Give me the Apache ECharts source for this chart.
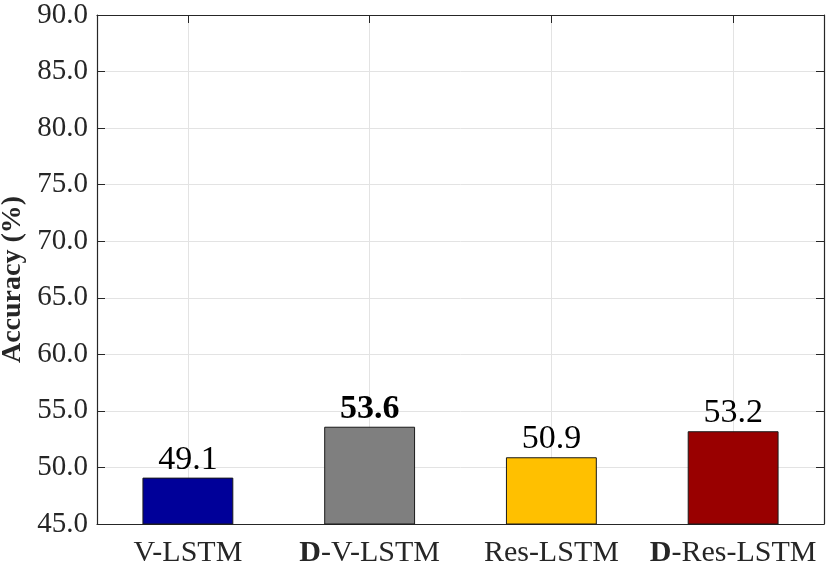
<!DOCTYPE html>
<html>
<head>
<meta charset="utf-8">
<script src="https://cdn.jsdelivr.net/npm/echarts@6/dist/echarts.min.js"></script>
<style>html,body{margin:0;padding:0;background:#fff;}#c{width:830px;height:569px;}</style>
</head>
<body>
<div id="c"></div>
<script>
const categories = ['V-LSTM', 'D-V-LSTM', 'Res-LSTM', 'D-Res-LSTM'];
const accuracy = [49.1, 53.6, 50.9, 53.2];
const barColors = ['#000099', '#7f7f7f', '#ffc000', '#990000'];
const boldValue = [false, true, false, false];
const yMin = 45, yMax = 90, yStep = 5;

const FONT = '"Liberation Serif", "Times New Roman", serif';
const chart = echarts.init(document.getElementById('c'), null, {renderer: 'canvas'});
const axisColor = '#262626';

const option = {
  animation: false,
  backgroundColor: '#fff',
  grid: {left: 97, right: 6, top: 15, bottom: 45, containLabel: false, outerBoundsMode: 'none'},
  xAxis: [{
    type: 'category',
    data: categories,
    position: 'bottom',
    axisLine: {show: true, lineStyle: {color: axisColor, width: 1.2}},
    axisTick: {show: true, inside: true, alignWithLabel: true, length: 8, lineStyle: {color: axisColor}},
    splitLine: {show: true, alignWithLabel: true, lineStyle: {color: '#e3e3e3', width: 1}},
    axisLabel: {
      interval: 0,
      hideOverlap: false,
      margin: 14,
      fontFamily: FONT, fontSize: 30, color: '#262626',
      formatter: function (v) {
        if (v.indexOf('D-') === 0) return '{b|D}{n|' + v.slice(1) + '}';
        return '{n|' + v + '}';
      },
      rich: {
        b: {fontFamily: FONT, fontSize: 30, fontWeight: 'bold', color: '#262626'},
        n: {fontFamily: FONT, fontSize: 30, color: '#262626'}
      }
    }
  }, {
    type: 'category',
    data: categories,
    position: 'top',
    axisLine: {show: true, lineStyle: {color: axisColor, width: 1.2}},
    axisTick: {show: true, inside: true, alignWithLabel: true, length: 8, lineStyle: {color: axisColor}},
    axisLabel: {show: false},
    splitLine: {show: false}
  }],
  yAxis: [{
    type: 'value',
    min: yMin, max: yMax, interval: yStep,
    position: 'left',
    name: 'Accuracy (%)',
    nameLocation: 'middle',
    nameGap: 67,
    nameTextStyle: {fontFamily: FONT, fontSize: 28, fontWeight: 'bold', color: '#262626', padding: [0, 20, 0, 0]},
    axisLine: {show: true, lineStyle: {color: axisColor, width: 1.2}},
    axisTick: {show: true, inside: true, length: 8, lineStyle: {color: axisColor}},
    splitLine: {show: true, lineStyle: {color: '#e3e3e3', width: 1}},
    axisLabel: {
      margin: 9,
      fontFamily: FONT, fontSize: 29, color: '#262626',
      formatter: function (v) { return v.toFixed(1); }
    }
  }, {
    type: 'value',
    min: yMin, max: yMax, interval: yStep,
    position: 'right',
    axisLine: {show: true, lineStyle: {color: axisColor, width: 1.2}},
    axisTick: {show: true, inside: true, length: 8, lineStyle: {color: axisColor}},
    splitLine: {show: false},
    axisLabel: {show: false}
  }],
  series: [{
    type: 'bar',
    xAxisIndex: 0,
    yAxisIndex: 0,
    barWidth: '50%',
    data: accuracy.map(function (v, i) {
      return {
        value: v,
        itemStyle: {color: barColors[i], borderColor: '#1a1a1a', borderWidth: 1},
        label: {fontWeight: boldValue[i] ? 'bold' : 'normal'}
      };
    }),
    label: {
      show: true,
      position: 'top',
      distance: 1,
      fontFamily: FONT,
      fontSize: 34,
      color: '#000',
      formatter: function (p) { return p.value.toFixed(1); }
    },
    z: 3
  }]
};
chart.setOption(option);
</script>
</body>
</html>
